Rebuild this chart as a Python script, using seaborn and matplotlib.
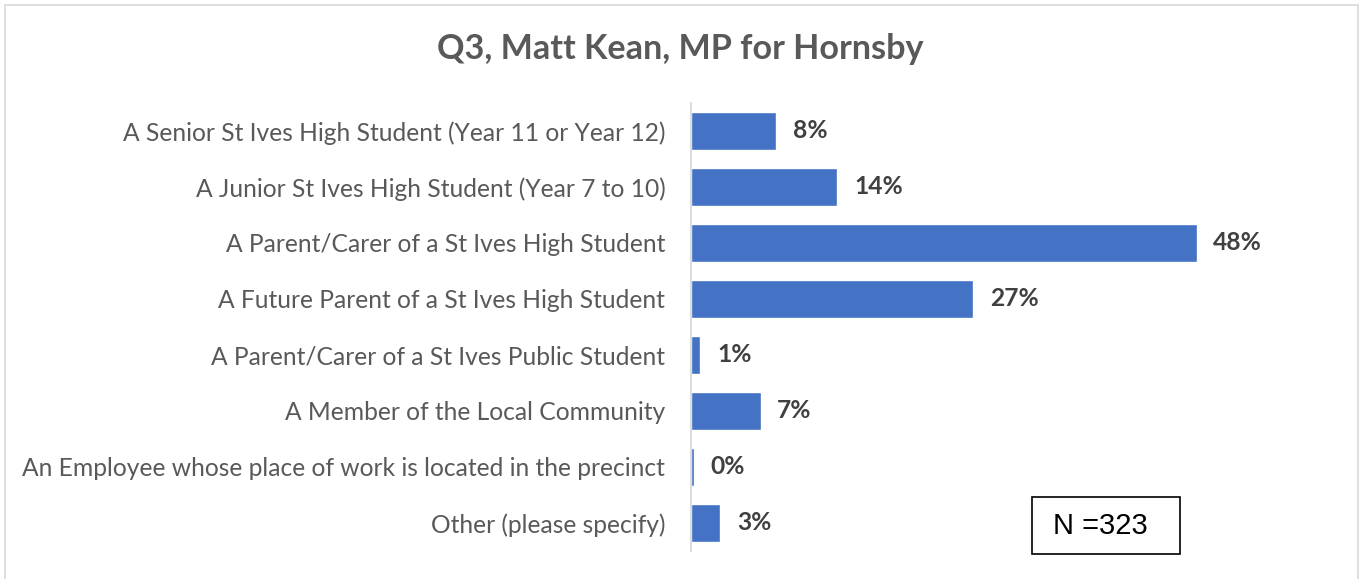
import matplotlib
matplotlib.use("Agg")
import matplotlib.pyplot as plt
import seaborn as sns
import pandas as pd
from matplotlib.patches import Rectangle

categories = [
    "A Senior St Ives High Student (Year 11 or Year 12)",
    "A Junior St Ives High Student (Year 7 to 10)",
    "A Parent/Carer of a St Ives High Student",
    "A Future Parent of a St Ives High Student",
    "A Parent/Carer of a St Ives Public Student",
    "A Member of the Local Community",
    "An Employee whose place of work is located in the precinct",
    "Other (please specify)",
]
values = [8.1, 13.9, 48.0, 26.8, 0.9, 6.6, 0.3, 2.8]
title = "Q3, Matt Kean, MP for Hornsby"
note = "N =323"

W, H, DPI = 1362, 579, 100
sns.set_theme(style="white")
plt.rcParams["font.family"] = ["Lato", "DejaVu Sans"]

fig = plt.figure(figsize=(W / DPI, H / DPI), dpi=DPI)
fig.patch.set_facecolor("white")

def px(x0, y0, x1, y1):
    return [x0 / W, 1 - y1 / H, (x1 - x0) / W, (y1 - y0) / H]

ax = fig.add_axes(px(691, 103, 1323, 551))
df = pd.DataFrame({"cat": categories, "val": values})
sns.barplot(data=df, x="val", y="cat", orient="h", color="#4472C4",
            saturation=1, width=0.67, ax=ax)
ax.set_xlim(0, 60)
ax.set_ylim(7.5, -0.5)
ax.set_xlabel("")
ax.set_ylabel("")
ax.set_xticks([])
for s in ["top", "right", "bottom"]:
    ax.spines[s].set_visible(False)
ax.spines["left"].set_color("#D9D9D9")
ax.spines["left"].set_linewidth(1.3)
ax.tick_params(axis="y", length=0, pad=18.5, labelsize=17.5, labelcolor="#595959")

ax.bar_label(ax.containers[0], labels=[f"{v:.0f}%" for v in values],
             padding=12, fontsize=17.5, fontweight="bold", color="#404040")

# fit label font size to the reference width of the longest label
fig.canvas.draw()
r = fig.canvas.get_renderer()
labs = ax.get_yticklabels()
longest = max(labs, key=lambda t: t.get_window_extent(r).width)
scale = 643 / longest.get_window_extent(r).width
fs = 17.5 * scale
ax.tick_params(axis="y", labelsize=fs)
for t in ax.texts:
    t.set_fontsize(fs)

t = fig.text(680.5 / W, 1 - 49 / H, title, ha="center", va="center",
             fontsize=26, fontweight="bold", color="#595959")
fig.canvas.draw()
tw = t.get_window_extent(r).width
t.set_fontsize(26 * 485 / tw)

# N box
fig.add_artist(Rectangle((1032 / W, 1 - 554 / H), (1180 - 1032) / W, (554 - 497) / H,
                         transform=fig.transFigure, fill=False, edgecolor="black",
                         linewidth=1.2))
fig.text(1053 / W, 1 - 526 / H, note, ha="left", va="center",
         fontsize=21, color="black", family=["Liberation Sans", "DejaVu Sans"])

# outer chart border
fig.add_artist(Rectangle((5 / W, -0.02), (1358 - 5) / W, 1 - 5 / H + 0.02,
                         transform=fig.transFigure, fill=False, edgecolor="#D9D9D9",
                         linewidth=1.2))

fig.savefig("out.png", dpi=DPI, facecolor="white")
